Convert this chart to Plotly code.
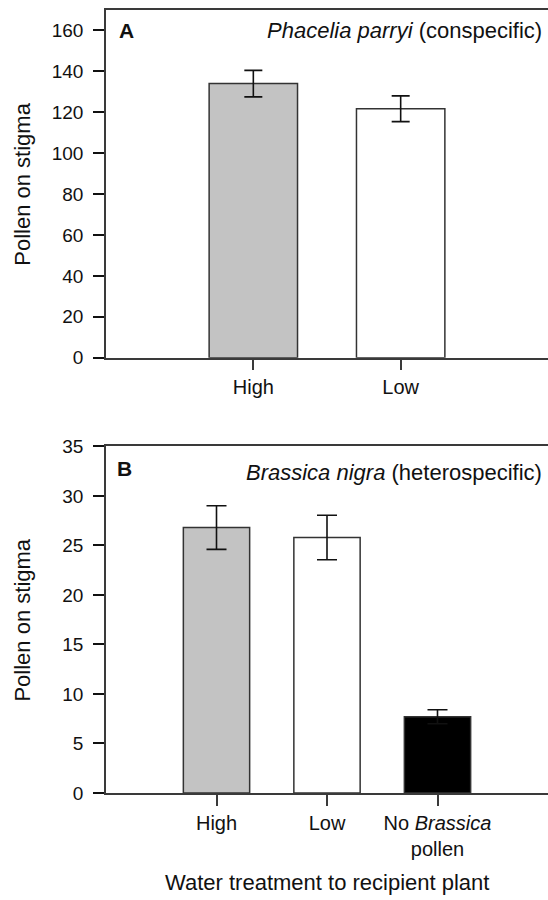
import plotly.graph_objects as go

# ---- data ----
cats_a = ["High", "Low"]
vals_a = [134.0, 121.7]
err_a = [6.5, 6.3]
colors_a = ["#c3c3c3", "#ffffff"]

cats_b = ["High", "Low", "No <i>Brassica</i><br>pollen"]
vals_b = [26.8, 25.8, 7.7]
err_b = [2.2, 2.25, 0.7]
colors_b = ["#c3c3c3", "#ffffff", "#000000"]

yticks_a = [0, 20, 40, 60, 80, 100, 120, 140, 160]
yticks_b = [0, 5, 10, 15, 20, 25, 30, 35]

FONT = "Liberation Sans, Arial, sans-serif"
AX = "#3a3a3a"

fig = go.Figure()

fig.add_trace(go.Bar(
    x=list(range(len(cats_a))), y=vals_a, width=0.6,
    marker=dict(color=colors_a, line=dict(color="#333333", width=1.5)),
    error_y=dict(type="data", array=err_a, color="#111111", thickness=1.6, width=9),
    xaxis="x", yaxis="y", showlegend=False,
))
fig.add_trace(go.Bar(
    x=list(range(len(cats_b))), y=vals_b, width=0.6,
    marker=dict(color=colors_b, line=dict(color="#333333", width=1.5)),
    error_y=dict(type="data", array=err_b, color="#111111", thickness=1.6, width=10),
    xaxis="x2", yaxis="y2", showlegend=False,
))

common_x = dict(showline=True, linecolor=AX, linewidth=1.5, mirror=True,
                ticks="outside", ticklen=11, tickwidth=1.5, tickcolor=AX,
                showgrid=False, zeroline=False,
                tickfont=dict(family=FONT, size=20, color="#111"))
common_y = dict(showline=True, linecolor=AX, linewidth=1.5, mirror=False,
                ticks="outside", ticklen=11, tickwidth=2, tickcolor="#111",
                showgrid=False, zeroline=False, ticklabelstandoff=6,
                tickfont=dict(family=FONT, size=19, color="#111"))

fig.update_layout(
    width=548, height=900,
    margin=dict(l=106, r=0, t=7, b=107),
    paper_bgcolor="white", plot_bgcolor="white",
    xaxis=dict(domain=[0, 1], anchor="y", range=[-1, 2],
               tickvals=list(range(len(cats_a))), ticktext=cats_a, **common_x),
    yaxis=dict(domain=[0.556, 1.0], anchor="x", range=[0, 170],
               tickvals=yticks_a, **common_y),
    xaxis2=dict(domain=[0, 1], anchor="y2", range=[-1, 3],
                tickvals=list(range(len(cats_b))), ticktext=cats_b, **common_x),
    yaxis2=dict(domain=[0.0, 0.4427], anchor="x2", range=[0, 35],
                tickvals=yticks_b, **common_y),
    bargap=0.4,
)

ann_font = dict(family=FONT, size=22, color="#111")
fig.add_annotation(text="<b>A</b>", xref="x domain", yref="y", x=0.025, y=160,
                   xanchor="left", yanchor="middle", showarrow=False,
                   font=dict(family=FONT, size=21, color="#111"))
fig.add_annotation(text="<i>Phacelia parryi</i> (conspecific)", xref="x domain", yref="y",
                   x=0.99, y=160, xanchor="right", yanchor="middle", showarrow=False,
                   font=ann_font)
fig.add_annotation(text="<b>B</b>", xref="x2 domain", yref="y2", x=0.02, y=32.8,
                   xanchor="left", yanchor="middle", showarrow=False,
                   font=dict(family=FONT, size=21, color="#111"))
fig.add_annotation(text="<i>Brassica nigra</i> (heterospecific)", xref="x2 domain", yref="y2",
                   x=0.99, y=32.4, xanchor="right", yanchor="middle", showarrow=False,
                   font=ann_font)

title_font = dict(family=FONT, size=22, color="#111")
fig.add_annotation(text="Pollen on stigma", xref="paper", yref="y domain",
                   x=-0.188, y=0.5, textangle=-90, xanchor="center", yanchor="middle",
                   showarrow=False, font=title_font)
fig.add_annotation(text="Pollen on stigma", xref="paper", yref="y2 domain",
                   x=-0.188, y=0.5, textangle=-90, xanchor="center", yanchor="middle",
                   showarrow=False, font=title_font)
fig.add_annotation(text="Water treatment to recipient plant", xref="x2 domain", yref="paper",
                   x=0.5, y=-0.1145, xanchor="center", yanchor="middle",
                   showarrow=False, font=title_font)

fig.write_html("out.html", config={"displayModeBar": False},
               post_script="document.body.style.margin='0';")
